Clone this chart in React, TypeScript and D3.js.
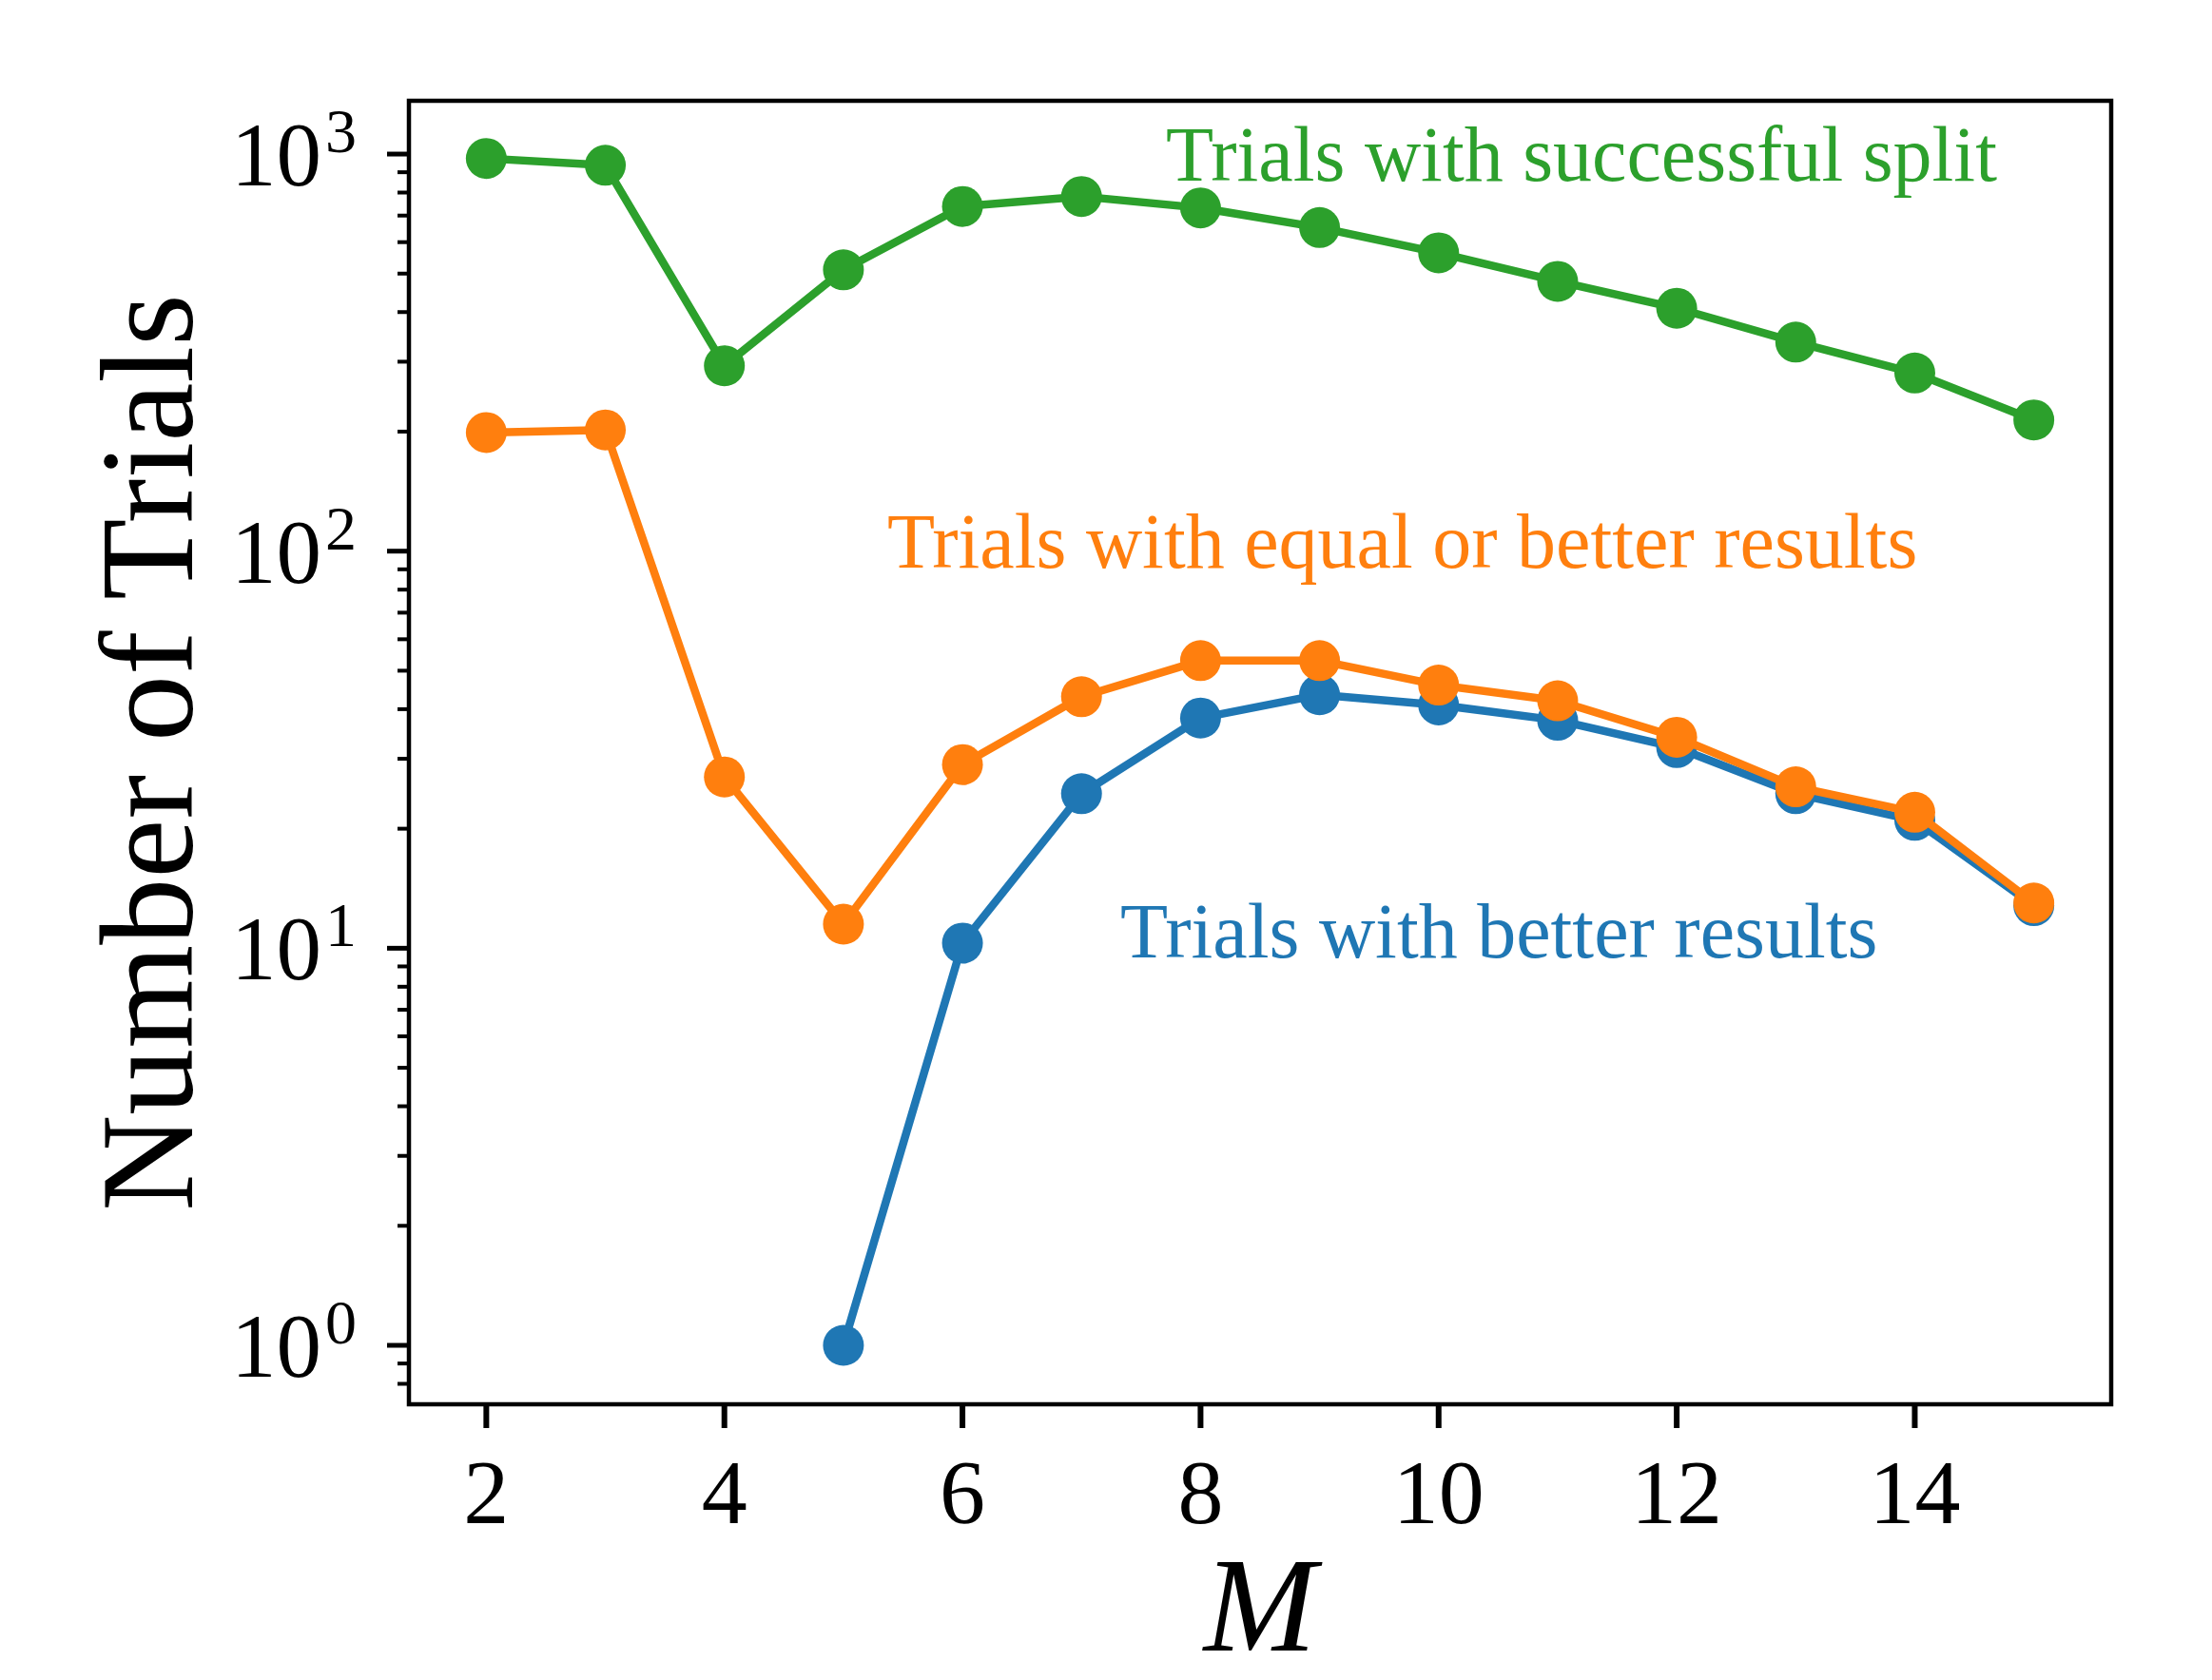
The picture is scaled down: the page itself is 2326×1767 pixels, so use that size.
import React from 'react';
import * as d3 from 'd3';

// ---- data ----
const M_VALUES = [2, 3, 4, 5, 6, 7, 8, 9, 10, 11, 12, 13, 14, 15];
const SUCCESSFUL_SPLIT = [975, 937, 293, 511, 738, 782, 732, 653, 564, 478, 409, 336, 281, 214];
const EQUAL_OR_BETTER = [199, 202, 27, 11.5, 29, 43, 53, 53, 46, 42, 34, 25.5, 22, 13];
const BETTER_M = [5, 6, 7, 8, 9, 10, 11, 12, 13, 14, 15];
const BETTER = [1, 10.3, 24.5, 38, 43.5, 41, 37.5, 32, 24.5, 21, 12.8];
const X_TICKS = [2, 4, 6, 8, 10, 12, 14];
const Y_TICKS = [1, 10, 100, 1000];
const Y_TICK_EXPONENTS = ['0', '1', '2', '3'];

const LABEL_SPLIT = 'Trials with successful split';
const LABEL_EQUAL = 'Trials with equal or better results';
const LABEL_BETTER = 'Trials with better results';

const C_BLUE = '#1f77b4';
const C_ORANGE = '#ff7f0e';
const C_GREEN = '#2ca02c';

const W = 2326;
const H = 1767;
const FONT = '"Liberation Serif", "Times New Roman", serif';

export default function App() {
  const left = 430, right = 2220, top = 106, bottom = 1477;
  const x = d3.scaleLinear().domain([1.35, 15.65]).range([left, right]);
  const y = d3.scaleLog().domain([0.7105, 1362]).range([bottom, top]);

  const line = d3
    .line<[number, number]>()
    .x((d) => x(d[0]))
    .y((d) => y(d[1]));

  const green: [number, number][] = M_VALUES.map((m, i) => [m, SUCCESSFUL_SPLIT[i]]);
  const orange: [number, number][] = M_VALUES.map((m, i) => [m, EQUAL_OR_BETTER[i]]);
  const blue: [number, number][] = BETTER_M.map((m, i) => [m, BETTER[i]]);

  const [d0, d1] = y.domain();
  const minor: number[] = [];
  for (let k = -1; k <= 3; k++) {
    for (let m = 2; m <= 9; m++) {
      const v = m * Math.pow(10, k);
      if (v >= d0 && v <= d1) minor.push(v);
    }
  }

  const lw = 8.5;
  const r = 21.5;

  const series = [
    { data: green, color: C_GREEN },
    { data: blue, color: C_BLUE },
    { data: orange, color: C_ORANGE },
  ];

  return (
    <svg
      width={W}
      height={H}
      viewBox={`0 0 ${W} ${H}`}
      style={{ position: 'absolute', left: 0, top: 0, background: '#fff' }}
      fontFamily={FONT}
    >
      <rect x={0} y={0} width={W} height={H} fill="#fff" />

      {/* series */}
      {series.map((s, si) => (
        <g key={si}>
          <path d={line(s.data) || ''} fill="none" stroke={s.color} strokeWidth={lw} strokeLinejoin="round" strokeLinecap="butt" />
          {s.data.map((d, i) => (
            <circle key={i} cx={x(d[0])} cy={y(d[1])} r={r} fill={s.color} />
          ))}
        </g>
      ))}

      {/* frame */}
      <rect x={left} y={top} width={right - left} height={bottom - top} fill="none" stroke="#000" strokeWidth={4.5} />

      {/* x ticks */}
      {X_TICKS.map((t) => (
        <g key={t}>
          <line x1={x(t)} x2={x(t)} y1={bottom} y2={bottom + 25} stroke="#000" strokeWidth={6} />
          <text x={x(t)} y={1602} fontSize={96} textAnchor="middle" fill="#000">
            {t}
          </text>
        </g>
      ))}

      {/* y minor ticks */}
      {minor.map((v, i) => (
        <line key={i} x1={left - 12} x2={left} y1={y(v)} y2={y(v)} stroke="#000" strokeWidth={4} />
      ))}

      {/* y major ticks */}
      {Y_TICKS.map((t, i) => (
        <g key={t}>
          <line x1={left - 23} x2={left} y1={y(t)} y2={y(t)} stroke="#000" strokeWidth={5} />
          <text x={375} y={y(t) + 33} textAnchor="end" fill="#000">
            <tspan fontSize={95}>10</tspan>
            <tspan fontSize={66} dy={-35} dx={4}>
              {Y_TICK_EXPONENTS[i]}
            </tspan>
          </text>
        </g>
      ))}

      {/* axis labels */}
      <text
        transform={`translate(202, ${(top + bottom) / 2}) rotate(-90)`}
        textAnchor="middle"
        fontSize={140}
        fill="#000"
      >
        Number of Trials
      </text>
      <text x={(left + right) / 2} y={1736} textAnchor="middle" fontSize={142} fontStyle="italic" fill="#000">
        M
      </text>

      {/* annotations */}
      <text x={1226} y={190} fontSize={82} fill={C_GREEN}>
        {LABEL_SPLIT}
      </text>
      <text x={933} y={597} fontSize={82} fill={C_ORANGE}>
        {LABEL_EQUAL}
      </text>
      <text x={1178} y={1007} fontSize={82} fill={C_BLUE}>
        {LABEL_BETTER}
      </text>
    </svg>
  );
}
